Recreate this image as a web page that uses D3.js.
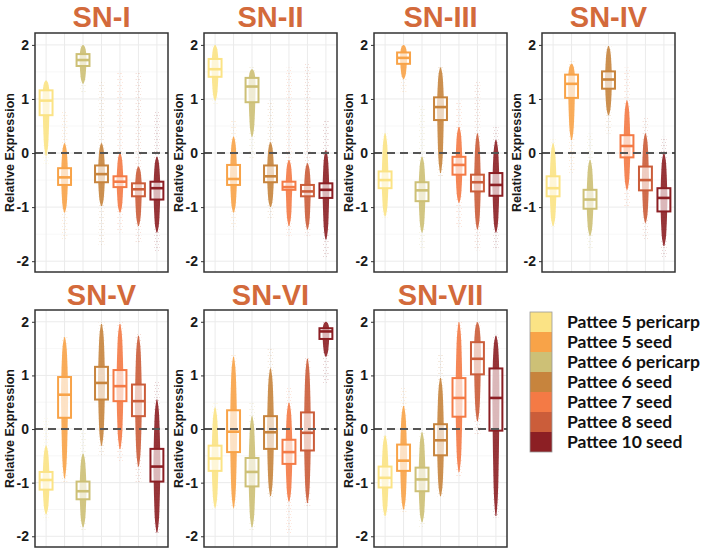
<!DOCTYPE html>
<html>
<head>
<meta charset="utf-8">
<script src="https://cdn.jsdelivr.net/npm/d3@7"></script>
<style>
  body { margin: 0; background: #fff; }
  svg { display: block; }
</style>
</head>
<body>
<div id="chart"></div>
<script>
// panel names and groups
const panels = ["SN-I", "SN-II", "SN-III", "SN-IV", "SN-V", "SN-VI", "SN-VII"];
const groups = ["Pattee 5 pericarp", "Pattee 5 seed", "Pattee 6 pericarp", "Pattee 6 seed",
                "Pattee 7 seed", "Pattee 8 seed", "Pattee 10 seed"];
const colors = ["#fbe385", "#f8a348", "#cdc076", "#c7843d", "#f47a45", "#cb5d3a", "#8c1f24"];
const yTicks = [-2, -1, 0, 1, 2];

// box stats, one row per panel
const q1s = [
  [0.70, -0.59, 1.61, -0.54, -0.63, -0.80, -0.86],
  [1.41, -0.59, 0.94, -0.54, -0.68, -0.80, -0.83],
  [-0.65, 1.65, -0.89, 0.61, -0.40, -0.71, -0.79],
  [-0.80, 1.02, -1.03, 1.19, -0.08, -0.69, -1.08],
  [-1.13, 0.21, -1.31, 0.55, 0.52, 0.24, -0.98],
  [-0.78, -0.43, -1.07, -0.37, -0.65, -0.40, 1.68],
  [-1.09, -0.78, -1.16, -0.49, 0.23, 1.02, -0.03]
];
const medians = [
  [0.97, -0.45, 1.72, -0.39, -0.53, -0.67, -0.65],
  [1.55, -0.48, 1.23, -0.43, -0.63, -0.71, -0.68],
  [-0.50, 1.76, -0.69, 0.85, -0.22, -0.54, -0.59],
  [-0.65, 1.28, -0.86, 1.36, 0.13, -0.50, -0.83],
  [-0.95, 0.64, -1.16, 0.86, 0.80, 0.52, -0.70],
  [-0.55, -0.05, -0.80, -0.06, -0.43, -0.07, 1.82],
  [-0.91, -0.59, -0.94, -0.21, 0.58, 1.31, 0.58]
];
const q3s = [
  [1.16, -0.28, 1.83, -0.23, -0.43, -0.56, -0.53],
  [1.74, -0.22, 1.39, -0.23, -0.53, -0.59, -0.56],
  [-0.34, 1.86, -0.54, 1.03, -0.07, -0.40, -0.37],
  [-0.43, 1.45, -0.68, 1.51, 0.33, -0.25, -0.65],
  [-0.80, 0.97, -0.98, 1.16, 1.10, 0.83, -0.37],
  [-0.31, 0.35, -0.54, 0.24, -0.20, 0.31, 1.88],
  [-0.70, -0.29, -0.72, 0.09, 0.95, 1.62, 1.13]
];
// extent of the dense part of the point cloud
const denseLo = [
  [-0.05, -1.10, 1.28, -0.98, -1.10, -1.35, -1.47],
  [0.97, -1.10, 0.30, -1.00, -1.35, -1.41, -1.60],
  [-1.17, 1.37, -1.47, -0.37, -0.92, -1.41, -1.47],
  [-1.35, 0.24, -1.53, 0.70, -0.68, -1.29, -1.72],
  [-1.59, -0.92, -1.83, -0.31, -0.37, -0.70, -1.93],
  [-1.47, -1.47, -1.83, -1.25, -1.35, -1.38, 1.35],
  [-1.62, -1.50, -1.74, -1.25, -0.80, 0.15, -1.62]
];
const denseHi = [
  [1.34, 0.18, 2.00, 0.18, 0.00, -0.25, -0.07],
  [2.00, 0.30, 1.55, 0.20, -0.13, -0.19, 0.05],
  [0.36, 2.00, -0.07, 1.58, 0.48, 0.36, 0.24],
  [0.18, 1.65, -0.13, 1.98, 0.97, 0.36, 0.00],
  [-0.31, 1.71, -0.46, 1.96, 1.96, 1.74, 0.55],
  [0.40, 1.35, 0.24, 1.13, 0.49, 1.31, 2.00],
  [-0.12, 0.43, -0.06, 0.95, 1.99, 1.99, 1.74]
];
// extent of the scattered outlying points
const sparseLo = [
  [-0.20, -1.60, 1.10, -1.70, -1.47, -1.66, -1.84],
  [0.90, -1.41, -0.13, -1.20, -1.53, -1.53, -1.93],
  [-1.20, 1.13, -1.78, -0.45, -1.40, -1.80, -1.78],
  [-1.40, -0.37, -1.78, 0.36, -0.99, -1.60, -1.96],
  [-1.70, -1.00, -1.90, -0.50, -0.60, -1.00, -1.97],
  [-1.50, -1.50, -1.90, -1.30, -1.95, -1.45, 0.86],
  [-1.65, -1.55, -1.85, -1.30, -0.90, -0.10, -1.65]
];
const sparseHi = [
  [1.34, 0.79, 2.00, 1.34, 1.52, 1.52, 0.79],
  [2.00, 0.60, 1.60, 0.97, 1.58, 1.65, 0.60],
  [0.40, 2.00, 0.90, 1.60, 0.97, 1.34, 0.48],
  [0.30, 1.70, 0.36, 2.00, 1.58, 0.67, 0.30],
  [0.20, 1.75, 0.00, 2.00, 2.00, 1.80, 0.90],
  [0.50, 1.40, 0.50, 1.50, 0.80, 1.35, 2.00],
  [-0.10, 0.80, 0.00, 1.40, 2.00, 2.00, 1.76]
];

const width = 708, height = 553;
const colLeft = [35, 204, 374, 542];
const rowTop = [33, 310];
const rowBottom = [272, 547];
const panelW = 133;
const titleColor = "#d36a3b";

const svg = d3.select("#chart").append("svg")
  .attr("width", width).attr("height", height)
  .style("font-family", "'Liberation Sans', Arial, sans-serif");

// dotted fill for the scattered points
const defs = svg.append("defs");
colors.forEach((c, i) => {
  const p = defs.append("pattern").attr("id", "dots" + i)
    .attr("patternUnits", "userSpaceOnUse").attr("width", 3).attr("height", 6);
  p.append("circle").attr("cx", 1).attr("cy", 1.5).attr("r", 0.55).attr("fill", c);
  p.append("circle").attr("cx", 2.4).attr("cy", 4.5).attr("r", 0.45).attr("fill", c);
});

panels.forEach((name, pi) => {
  const row = pi < 4 ? 0 : 1;
  const col = pi % 4;
  const left = colLeft[col], right = left + panelW;
  const top = rowTop[row], bottom = rowBottom[row];

  const x = d3.scalePoint().domain(groups).range([left, right]).padding(0.6);
  const y = d3.scaleLinear().domain([-2.2, 2.22]).range([bottom, top]);
  const step = x.step();
  const boxHalf = step * 0.35;

  const g = svg.append("g");

  // grid
  g.selectAll(".minor").data([-1.5, -0.5, 0.5, 1.5]).enter().append("line")
    .attr("x1", left).attr("x2", right)
    .attr("y1", d => y(d)).attr("y2", d => y(d))
    .attr("stroke", "#f5f5f5").attr("stroke-width", 0.8);
  g.selectAll(".hgrid").data(yTicks).enter().append("line")
    .attr("x1", left).attr("x2", right)
    .attr("y1", d => y(d)).attr("y2", d => y(d))
    .attr("stroke", "#ebebeb").attr("stroke-width", 1);
  g.selectAll(".vgrid").data(groups).enter().append("line")
    .attr("x1", d => x(d)).attr("x2", d => x(d))
    .attr("y1", top).attr("y2", bottom)
    .attr("stroke", "#ebebeb").attr("stroke-width", 1);

  // scattered points
  groups.forEach((grp, gi) => {
    const cx = x(grp);
    g.append("rect")
      .attr("x", cx - boxHalf * 0.45).attr("width", boxHalf * 0.9)
      .attr("y", y(sparseHi[pi][gi])).attr("height", y(sparseLo[pi][gi]) - y(sparseHi[pi][gi]))
      .attr("fill", `url(#dots${gi})`).attr("opacity", 0.4);
  });

  // dense columns of points
  const area = d3.area()
    .y(d => y(d[0]))
    .x0(d => d[2] - d[1])
    .x1(d => d[2] + d[1])
    .curve(d3.curveMonotoneY);
  groups.forEach((grp, gi) => {
    const cx = x(grp);
    const lo = denseLo[pi][gi], hi = denseHi[pi][gi];
    const a = q1s[pi][gi], m = medians[pi][gi], b = q3s[pi][gi];
    const prof = [
      [lo, 0.5], [lo + (a - lo) * 0.2, boxHalf * 0.28], [(lo + a) / 2, boxHalf * 0.4],
      [a, boxHalf * 0.5], [m, boxHalf * 0.55], [b, boxHalf * 0.5],
      [(b + hi) / 2, boxHalf * 0.4], [hi - (hi - b) * 0.2, boxHalf * 0.28], [hi, 0.5]
    ].map(d => [d[0], d[1], cx]).sort((p, q) => p[0] - q[0]);
    g.append("path").datum(prof)
      .attr("d", area)
      .attr("fill", colors[gi]).attr("opacity", 0.9);
  });

  // boxes
  groups.forEach((grp, gi) => {
    const cx = x(grp);
    g.append("rect")
      .attr("x", cx - boxHalf).attr("width", boxHalf * 2)
      .attr("y", y(q3s[pi][gi])).attr("height", y(q1s[pi][gi]) - y(q3s[pi][gi]))
      .attr("fill", "#fff").attr("fill-opacity", 0.65)
      .attr("stroke", colors[gi]).attr("stroke-width", 2);
    g.append("line")
      .attr("x1", cx - boxHalf).attr("x2", cx + boxHalf)
      .attr("y1", y(medians[pi][gi])).attr("y2", y(medians[pi][gi]))
      .attr("stroke", colors[gi]).attr("stroke-width", 2.6);
  });

  // zero line
  g.append("line")
    .attr("x1", left).attr("x2", right)
    .attr("y1", y(0)).attr("y2", y(0))
    .attr("stroke", "#555").attr("stroke-width", 2)
    .attr("stroke-dasharray", "8,5");

  // border
  g.append("rect")
    .attr("x", left).attr("y", top).attr("width", panelW).attr("height", bottom - top)
    .attr("fill", "none").attr("stroke", "#333").attr("stroke-width", 1.5);

  // y axis
  const ax = g.append("g")
    .attr("transform", `translate(${left},0)`)
    .call(d3.axisLeft(y).tickValues(yTicks).tickSize(3).tickPadding(3).tickFormat(d => String(d)));
  ax.select(".domain").remove();
  ax.selectAll(".tick line").attr("stroke", "#333");
  ax.selectAll(".tick text")
    .attr("font-size", 14).attr("font-weight", "bold").attr("fill", "#1a1a1a")
    .style("font-family", "'Liberation Sans', Arial, sans-serif");

  g.append("text")
    .attr("transform", `translate(${left - 25},${(top + bottom) / 2}) rotate(-90)`)
    .attr("text-anchor", "middle").attr("dy", "0.35em")
    .attr("font-size", 12.5).attr("font-weight", "bold").attr("fill", "#1a1a1a")
    .text("Relative Expression");

  // title
  g.append("text")
    .attr("x", (left + right) / 2).attr("y", row === 0 ? 27 : 305)
    .attr("text-anchor", "middle")
    .attr("font-size", 29).attr("font-weight", "bold").attr("fill", titleColor)
    .text(name);
});

// legend
const legend = svg.append("g").attr("transform", "translate(530,312)");
const rowH = 20;
groups.forEach((grp, gi) => {
  legend.append("rect")
    .attr("x", 0).attr("y", gi * rowH).attr("width", 22).attr("height", rowH)
    .attr("fill", colors[gi]);
  legend.append("text")
    .attr("x", 37).attr("y", gi * rowH + rowH / 2).attr("dy", "0.35em")
    .attr("font-size", 17.5).attr("font-weight", "bold").attr("fill", "#111")
    .style("font-family", "Lato, 'Open Sans', sans-serif")
    .text(grp);
});
legend.append("rect")
  .attr("x", 0).attr("y", 0).attr("width", 22).attr("height", rowH * groups.length)
  .attr("fill", "none").attr("stroke", "#999").attr("stroke-width", 0.8);
</script>
</body>
</html>
